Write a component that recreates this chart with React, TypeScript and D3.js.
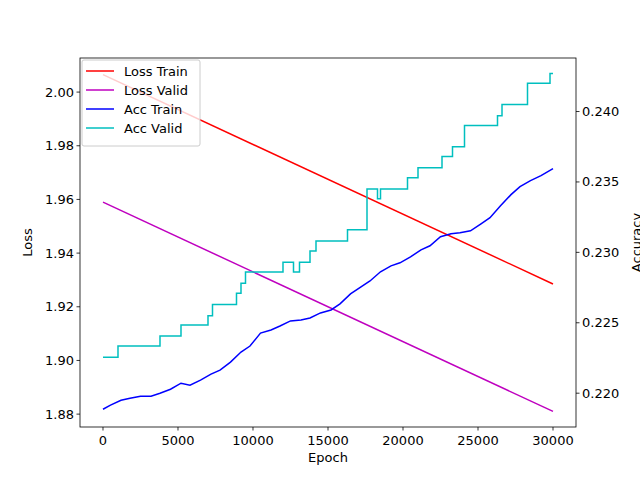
import React from 'react';
import * as d3 from 'd3';

const lossEpochs = [0, 30000];
const lossTrain = [2.0065, 1.9285];
const lossValid = [1.959, 1.881];

const accTrainEpochs = [0, 500, 1200, 1800, 2500, 3200, 3800, 4500, 5200, 5800, 6500, 7200, 7800, 8500, 9200, 9800, 10500, 11200, 11800, 12500, 13200, 13800, 14500, 15200, 15800, 16500, 17200, 17800, 18500, 19200, 19800, 20500, 21200, 21800, 22500, 23200, 23800, 24500, 25200, 25800, 26500, 27200, 27800, 28500, 29200, 30000];
const accTrain = [0.21886, 0.21915, 0.2195, 0.21964, 0.21979, 0.21979, 0.22, 0.22028, 0.22071, 0.22057, 0.22093, 0.22135, 0.22164, 0.22221, 0.22292, 0.22335, 0.22427, 0.22449, 0.22477, 0.22513, 0.2252, 0.22534, 0.2257, 0.22591, 0.22634, 0.22705, 0.22755, 0.22797, 0.22862, 0.22904, 0.22926, 0.22968, 0.23018, 0.23047, 0.23111, 0.23132, 0.23139, 0.23153, 0.23203, 0.23246, 0.23331, 0.2341, 0.23467, 0.23509, 0.23545, 0.23595];

// step changes: epoch where value starts
const accValidEpochs = [0, 1000, 3800, 5200, 7000, 7300, 8900, 9200, 9500, 12000, 12700, 13100, 13800, 14200, 16300, 17600, 18300, 18500, 20300, 21000, 22600, 23300, 24100, 26300, 26600, 28300, 29800, 30000];
const accValid = [0.22256, 0.22335, 0.22406, 0.22484, 0.2255, 0.2263, 0.2271, 0.2278, 0.2286, 0.2293, 0.2286, 0.2293, 0.2301, 0.2308, 0.2316, 0.2345, 0.2338, 0.2345, 0.2353, 0.236, 0.2368, 0.2375, 0.239, 0.2397, 0.2405, 0.242, 0.2427, 0.2427];

const xTicks = [0, 5000, 10000, 15000, 20000, 25000, 30000];
const lossTicks = [1.88, 1.9, 1.92, 1.94, 1.96, 1.98, 2.0];
const accTicks = [0.22, 0.225, 0.23, 0.235, 0.24];

const legend = [
  { label: 'Loss Train', color: '#ff0000' },
  { label: 'Loss Valid', color: '#bf00bf' },
  { label: 'Acc Train', color: '#0000ff' },
  { label: 'Acc Valid', color: '#00bfbf' },
];

const W = 640, H = 480;
const L = 80, R = 576, T = 58, B = 427;
const font = 'DejaVu Sans, sans-serif';
const fs = 13;

export default function App() {
  const x = d3.scaleLinear().domain([-1533, 31533]).range([L, R]);
  const yL = d3.scaleLinear().domain([1.8752, 2.0127]).range([B, T]);
  const yR = d3.scaleLinear().domain([0.2176, 0.2438]).range([B, T]);

  const lineL = (ys: number[]) => d3.line<number>().x((_, i) => x(lossEpochs[i])).y(d => yL(d))(ys)!;
  const accTrainPath = d3.line<number>().x((_, i) => x(accTrainEpochs[i])).y(d => yR(d))(accTrain)!;
  const accValidPath = d3.line<number>().curve(d3.curveStepAfter).x((_, i) => x(accValidEpochs[i])).y(d => yR(d))(accValid)!;

  return (
    <svg width={W} height={H} style={{ position: 'absolute', left: 0, top: 0 }} fontFamily={font}>
      <rect width={W} height={H} fill="#fff" />
      <path d={lineL(lossTrain)} stroke="#ff0000" strokeWidth={1.5} fill="none" />
      <path d={lineL(lossValid)} stroke="#bf00bf" strokeWidth={1.5} fill="none" />
      <path d={accTrainPath} stroke="#0000ff" strokeWidth={1.5} fill="none" />
      <path d={accValidPath} stroke="#00bfbf" strokeWidth={1.5} fill="none" />
      <rect x={L} y={T} width={R - L} height={B - T} fill="none" stroke="#000" strokeWidth={0.8} />
      {xTicks.map(t => (
        <g key={t}>
          <line x1={x(t)} x2={x(t)} y1={B} y2={B + 3.5} stroke="#000" strokeWidth={0.8} />
          <text x={x(t)} y={B + 18} fontSize={fs} textAnchor="middle">{t}</text>
        </g>
      ))}
      {lossTicks.map(t => (
        <g key={t}>
          <line x1={L - 3.5} x2={L} y1={yL(t)} y2={yL(t)} stroke="#000" strokeWidth={0.8} />
          <text x={L - 6} y={yL(t) + 4.5} fontSize={fs} textAnchor="end">{t.toFixed(2)}</text>
        </g>
      ))}
      {accTicks.map(t => (
        <g key={t}>
          <line x1={R} x2={R + 3.5} y1={yR(t)} y2={yR(t)} stroke="#000" strokeWidth={0.8} />
          <text x={R + 6} y={yR(t) + 4.5} fontSize={fs}>{t.toFixed(3)}</text>
        </g>
      ))}
      <text x={(L + R) / 2} y={B + 35} fontSize={fs} textAnchor="middle">Epoch</text>
      <text transform={`translate(32,${(T + B) / 2}) rotate(-90)`} fontSize={fs} textAnchor="middle">Loss</text>
      <text transform={`translate(641,${(T + B) / 2}) rotate(-90)`} fontSize={fs} textAnchor="middle">Accuracy</text>
      <rect x={82} y={60} width={118} height={86} rx={2} fill="#fff" fillOpacity={0.8} stroke="#ccc" />
      {legend.map((d, i) => (
        <g key={d.label}>
          <line x1={86} x2={114} y1={71 + i * 19} y2={71 + i * 19} stroke={d.color} strokeWidth={1.5} />
          <text x={124} y={75.5 + i * 19} fontSize={fs}>{d.label}</text>
        </g>
      ))}
    </svg>
  );
}
